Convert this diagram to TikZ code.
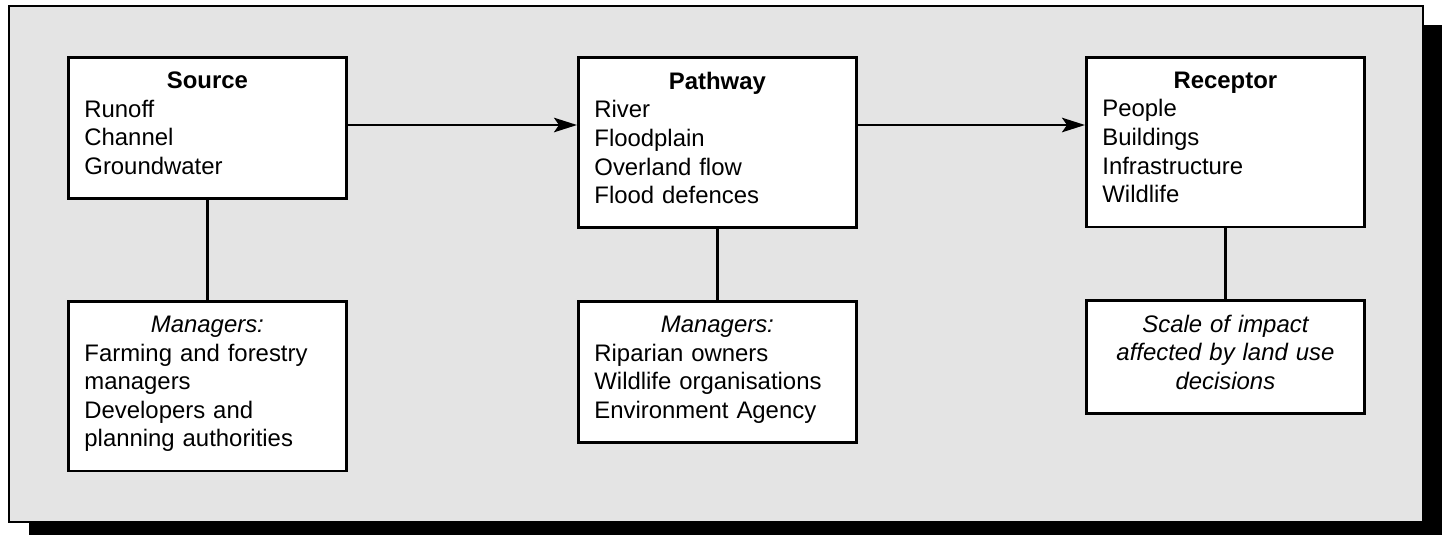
\documentclass[tikz,border=0pt]{standalone}
\usepackage{fontspec}
\setmainfont{Liberation Sans}
\usepackage{xcolor}
\usepackage{tikz}
\usetikzlibrary{arrows.meta}
\definecolor{fond}{HTML}{E4E4E4}

\tikzset{
  boite/.style={draw, line width=1.6pt, fill=white, anchor=north west,
    text width=4.92cm, inner xsep=0.32cm, inner ysep=0.29cm, align=left,
    execute at end node={\rule[-0.19cm]{0pt}{0.19cm}},
    font=\fontsize{13.6}{16.3}\selectfont},
  lien/.style={line width=1.4pt},
  fleche/.style={line width=1.4pt, -{Stealth[length=0.46cm, width=0.29cm, inset=0.1cm]}}
}

\begin{document}
\begin{tikzpicture}
    \useasboundingbox (0, 0) rectangle (28.9, -10.7);

    % Ombre et cadre gris
    \fill[black] (0.58, -0.50) rectangle (28.84, -10.70);
    \filldraw[fill=fond, line width=1.2pt] (0.18, -0.12) rectangle (28.46, -10.44);

    % Boites du haut
    \node[boite] (src) at (1.34, -1.12)
        {\makebox[\hsize]{\textbf{Source}}\\Runoff\\Channel\\Groundwater};
    \node[boite] (path) at (11.54, -1.12)
        {\makebox[\hsize]{\textbf{Pathway}}\\River\\Floodplain\\Overland flow\\Flood defences};
    \node[boite] (rec) at (21.70, -1.12)
        {\makebox[\hsize]{\textbf{Receptor}}\\People\\Buildings\\Infrastructure\\Wildlife};

    % Boites du bas
    \node[boite] (srcman) at (1.34, -6.0)
        {\makebox[\hsize]{\textit{Managers:}}\\Farming and forestry\\managers\\Developers and\\planning authorities};
    \node[boite] (pathman) at (11.54, -6.0)
        {\makebox[\hsize]{\textit{Managers:}}\\Riparian owners\\Wildlife organisations\\Environment Agency};
    \node[boite, align=center, font=\fontsize{13.6}{16.3}\selectfont\itshape] (recman) at (21.70, -5.98)
        {Scale of impact\\affected by land use\\decisions};

    % Fleches
    \coordinate (ligne) at (0, -2.5);
    \draw[fleche] (src.east |- ligne) -- (path.west |- ligne);
    \draw[fleche] (path.east |- ligne) -- (rec.west |- ligne);

    % Liens verticaux
    \draw[lien] (src.south) -- (srcman.north);
    \draw[lien] (path.south) -- (pathman.north);
    \draw[lien] (rec.south) -- (recman.north);
\end{tikzpicture}
\end{document}
